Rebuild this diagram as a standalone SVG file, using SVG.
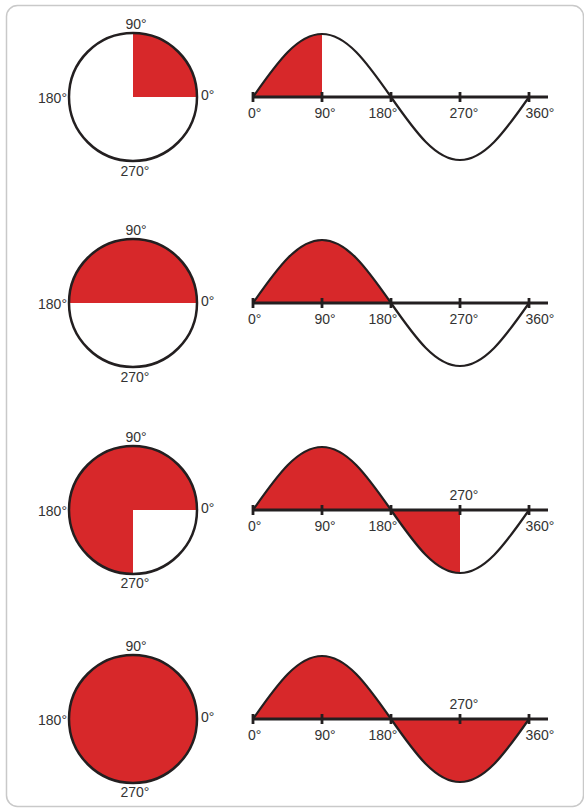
<svg xmlns="http://www.w3.org/2000/svg" width="584" height="809" viewBox="0 0 584 809">
<style>
.frame{fill:#fff;stroke:#c9c9c9;stroke-width:1.5}
.red{fill:#d7282a;stroke:none}
.ring{fill:none;stroke:#231f20;stroke-width:2.5}
.wave{fill:none;stroke:#231f20;stroke-width:2.2}
.axis{stroke:#231f20;stroke-width:3;fill:none}
.tick{stroke:#231f20;stroke-width:2.8}
text{font-family:"Liberation Sans",Arial,sans-serif;font-size:14px;fill:#333}
.m{text-anchor:middle}
.e{text-anchor:end}
</style>
<defs>
<g id="ticks">
<line class="axis" x1="252" y1="0" x2="548" y2="0"/>
<line class="tick" x1="253" y1="-5" x2="253" y2="5"/>
<line class="tick" x1="322" y1="-5" x2="322" y2="5"/>
<line class="tick" x1="391" y1="-5" x2="391" y2="5"/>
<line class="tick" x1="460" y1="-5" x2="460" y2="5"/>
<line class="tick" x1="529" y1="-5" x2="529" y2="5"/>
</g>
</defs>
<rect class="frame" x="6.5" y="5.5" width="577" height="801" rx="11"/>

<g id="row1">
<g id="circle1">
<path class="red" d="M133,97 L197,97 A64,64 0 0 0 133,33 Z"/>
<circle class="ring" cx="133" cy="97" r="64"/>
<text class="m" x="136" y="29">90°</text>
<text x="201" y="100">0°</text>
<text class="e" x="67" y="103">180°</text>
<text class="m" x="135" y="176">270°</text>
</g>
<g id="wave1">
<path class="red" d="M253,97 C278.1,61 297.85,34 322,34 L322,97 Z"/>
<path class="wave" d="M253,97 C278.1,61 297.85,34 322,34 C346.15,34 365.9,61 391,97 C416.1,133 435.85,160 460,160 C484.15,160 503.9,133 529,97"/>
<use href="#ticks" y="97"/>
<text x="248" y="118">0°</text>
<text class="m" x="325" y="118">90°</text>
<text class="m" x="383" y="118">180°</text>
<text class="m" x="464" y="118">270°</text>
<text class="m" x="540" y="118">360°</text>
</g>
</g>

<g id="row2">
<g id="circle2">
<path class="red" d="M69,303 A64,64 0 0 1 197,303 Z"/>
<circle class="ring" cx="133" cy="303" r="64"/>
<text class="m" x="136" y="235">90°</text>
<text x="201" y="306">0°</text>
<text class="e" x="67" y="309">180°</text>
<text class="m" x="135" y="382">270°</text>
</g>
<g id="wave2">
<path class="red" d="M253,303 C278.1,267 297.85,240 322,240 C346.15,240 365.9,267 391,303 Z"/>
<path class="wave" d="M253,303 C278.1,267 297.85,240 322,240 C346.15,240 365.9,267 391,303 C416.1,339 435.85,366 460,366 C484.15,366 503.9,339 529,303"/>
<use href="#ticks" y="303"/>
<text x="248" y="324">0°</text>
<text class="m" x="325" y="324">90°</text>
<text class="m" x="383" y="324">180°</text>
<text class="m" x="464" y="324">270°</text>
<text class="m" x="540" y="324">360°</text>
</g>
</g>

<g id="row3">
<g id="circle3">
<path class="red" d="M133,510 L197,510 A64,64 0 1 0 133,574 Z"/>
<circle class="ring" cx="133" cy="510" r="64"/>
<text class="m" x="136" y="442">90°</text>
<text x="201" y="513">0°</text>
<text class="e" x="67" y="516">180°</text>
<text class="m" x="135" y="588">270°</text>
</g>
<g id="wave3">
<path class="red" d="M253,510 C278.1,474 297.85,447 322,447 C346.15,447 365.9,474 391,510 C416.1,546 435.85,573 460,573 L460,510 Z"/>
<path class="wave" d="M253,510 C278.1,474 297.85,447 322,447 C346.15,447 365.9,474 391,510 C416.1,546 435.85,573 460,573 C484.15,573 503.9,546 529,510"/>
<use href="#ticks" y="510"/>
<text x="248" y="531">0°</text>
<text class="m" x="325" y="531">90°</text>
<text class="m" x="383" y="531">180°</text>
<text class="m" x="464" y="500">270°</text>
<text class="m" x="540" y="531">360°</text>
</g>
</g>

<g id="row4">
<g id="circle4">
<circle class="red" cx="133" cy="719" r="64"/>
<circle class="ring" cx="133" cy="719" r="64"/>
<text class="m" x="136" y="651">90°</text>
<text x="201" y="722">0°</text>
<text class="e" x="67" y="725">180°</text>
<text class="m" x="135" y="797">270°</text>
</g>
<g id="wave4">
<path class="red" d="M253,719 C278.1,683 297.85,656 322,656 C346.15,656 365.9,683 391,719 C416.1,755 435.85,782 460,782 C484.15,782 503.9,755 529,719 Z"/>
<path class="wave" d="M253,719 C278.1,683 297.85,656 322,656 C346.15,656 365.9,683 391,719 C416.1,755 435.85,782 460,782 C484.15,782 503.9,755 529,719"/>
<use href="#ticks" y="719"/>
<text x="248" y="740">0°</text>
<text class="m" x="325" y="740">90°</text>
<text class="m" x="383" y="740">180°</text>
<text class="m" x="464" y="709">270°</text>
<text class="m" x="540" y="740">360°</text>
</g>
</g>
</svg>
